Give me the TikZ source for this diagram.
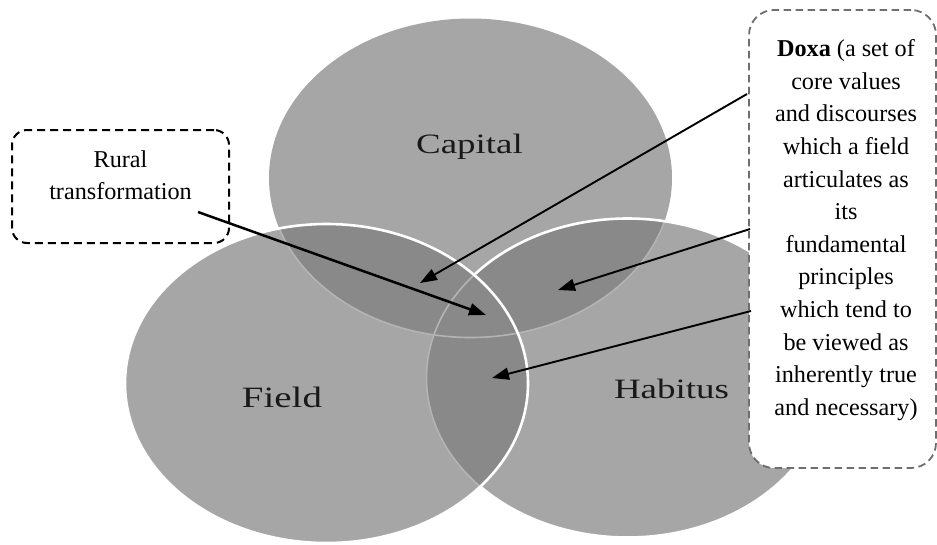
\documentclass[tikz,border=0pt]{standalone}
\usepackage{fontspec}
\setmainfont{Liberation Serif}
\newfontfamily\labelfont[FakeStretch=1.32]{Liberation Serif}
\usetikzlibrary{arrows.meta}
\definecolor{vfill}{HTML}{A6A6A6}
\definecolor{vdark}{HTML}{898989}
\definecolor{vfaint}{HTML}{B4B4B4}
\definecolor{doxaline}{HTML}{6E6E6E}
\tikzset{
  white line/.style={white, line width=2.6pt},
  faint line/.style={vfaint, line width=1.6pt},
  circlabel/.style={font=\labelfont\fontsize{28}{34}\selectfont, anchor=base, inner sep=0pt, text=black!90},
  boxtext/.style={font=\fontsize{24.2}{32.6}\selectfont, align=center, inner sep=0pt},
  ruralbox/.style={draw=black, line width=2pt, dash pattern=on 8pt off 5pt, rounded corners=15pt, fill=white, inner sep=0pt},
  doxabox/.style={draw=doxaline, line width=1.8pt, dash pattern=on 7.5pt off 4.5pt, rounded corners=25pt, fill=white, inner sep=0pt},
  arr/.style={-{Triangle[length=17pt,width=12pt]}, line width=1.9pt, black}
}
\begin{document}
\begin{tikzpicture}[x=1pt,y=-1pt]
\useasboundingbox (0,0) rectangle (937,544);

% base fills
\fill[vfill] (470.5,178) ellipse [x radius=201.5pt, y radius=159.5pt];
\fill[vfill] (326.5,383.5) ellipse [x radius=201.5pt, y radius=159.5pt];
\fill[vfill] (627.5,378) ellipse [x radius=201pt, y radius=159.5pt];
% overlaps
\begin{scope}
  \clip (470.5,178) ellipse [x radius=201.5pt, y radius=159.5pt];
  \fill[vdark] (326.5,383.5) ellipse [x radius=201.5pt, y radius=159.5pt];
  \fill[vdark] (627.5,378) ellipse [x radius=201pt, y radius=159.5pt];
\end{scope}
\begin{scope}
  \clip (326.5,383.5) ellipse [x radius=201.5pt, y radius=159.5pt];
  \fill[vdark] (627.5,378) ellipse [x radius=201pt, y radius=159.5pt];
\end{scope}
% capital outline under habitus
\begin{scope}
  \clip (627.5,378) ellipse [x radius=201pt, y radius=159.5pt];
  \draw[faint line] (470.5,178) ellipse [x radius=201.5pt, y radius=159.5pt];
\end{scope}
% habitus outline
\draw[white line] (627.5,378) ellipse [x radius=201pt, y radius=159.5pt];
% repaint field interior
\begin{scope}
  \clip (326.5,383.5) ellipse [x radius=201.5pt, y radius=159.5pt];
  \fill[vfill] (326.5,383.5) ellipse [x radius=201.5pt, y radius=159.5pt];
  \begin{scope}
    \clip (470.5,178) ellipse [x radius=201.5pt, y radius=159.5pt];
    \fill[vdark] (326.5,383.5) ellipse [x radius=201.5pt, y radius=159.5pt];
  \end{scope}
  \begin{scope}
    \clip (627.5,378) ellipse [x radius=201pt, y radius=159.5pt];
    \fill[vdark] (326.5,383.5) ellipse [x radius=201.5pt, y radius=159.5pt];
  \end{scope}
  \draw[faint line] (470.5,178) ellipse [x radius=201.5pt, y radius=159.5pt];
  \draw[faint line] (627.5,378) ellipse [x radius=201pt, y radius=159.5pt];
\end{scope}
% field outline
\draw[white line] (326.5,383.5) ellipse [x radius=201.5pt, y radius=159.5pt];

% circle labels
\node[circlabel] (capital) at (469.5,153) {Capital};
\node[circlabel, font=\labelfont\fontsize{29.5}{36}\selectfont] (field) at (282,407) {Field};
\node[circlabel] (habitus) at (671.5,398) {Habitus};

% boxes
\node[ruralbox, minimum width=217pt, minimum height=113pt] (rbox) at (120.5,186.5) {};
\node[boxtext, font=\fontsize{24.2}{32}\selectfont] (rtext) at (120.5,175) {Rural\\transformation};
\node[doxabox, minimum width=187pt, minimum height=458pt] (dbox) at (842.5,239) {};
\node[boxtext] (dtext) at (846,230) {\textbf{Doxa} (a set of\\core values\\and discourses\\which a field\\articulates as\\its\\fundamental\\principles\\which tend to\\be viewed as\\inherently true\\and necessary)};

% arrow ends
\coordinate (s1) at (198,212);
\coordinate (e1) at (486,315);
\coordinate (s2) at (747,94);
\coordinate (e2) at (420,283);
\coordinate (s3) at (750,229);
\coordinate (e3) at (558,290);
\coordinate (s4) at (751,311);
\coordinate (e4) at (492,378);

\draw[arr, line width=2.5pt] (s1) -- (e1);
\draw[arr] (s2) -- (e2);
\draw[arr] (s3) -- (e3);
\draw[arr] (s4) -- (e4);
\end{tikzpicture}
\end{document}
